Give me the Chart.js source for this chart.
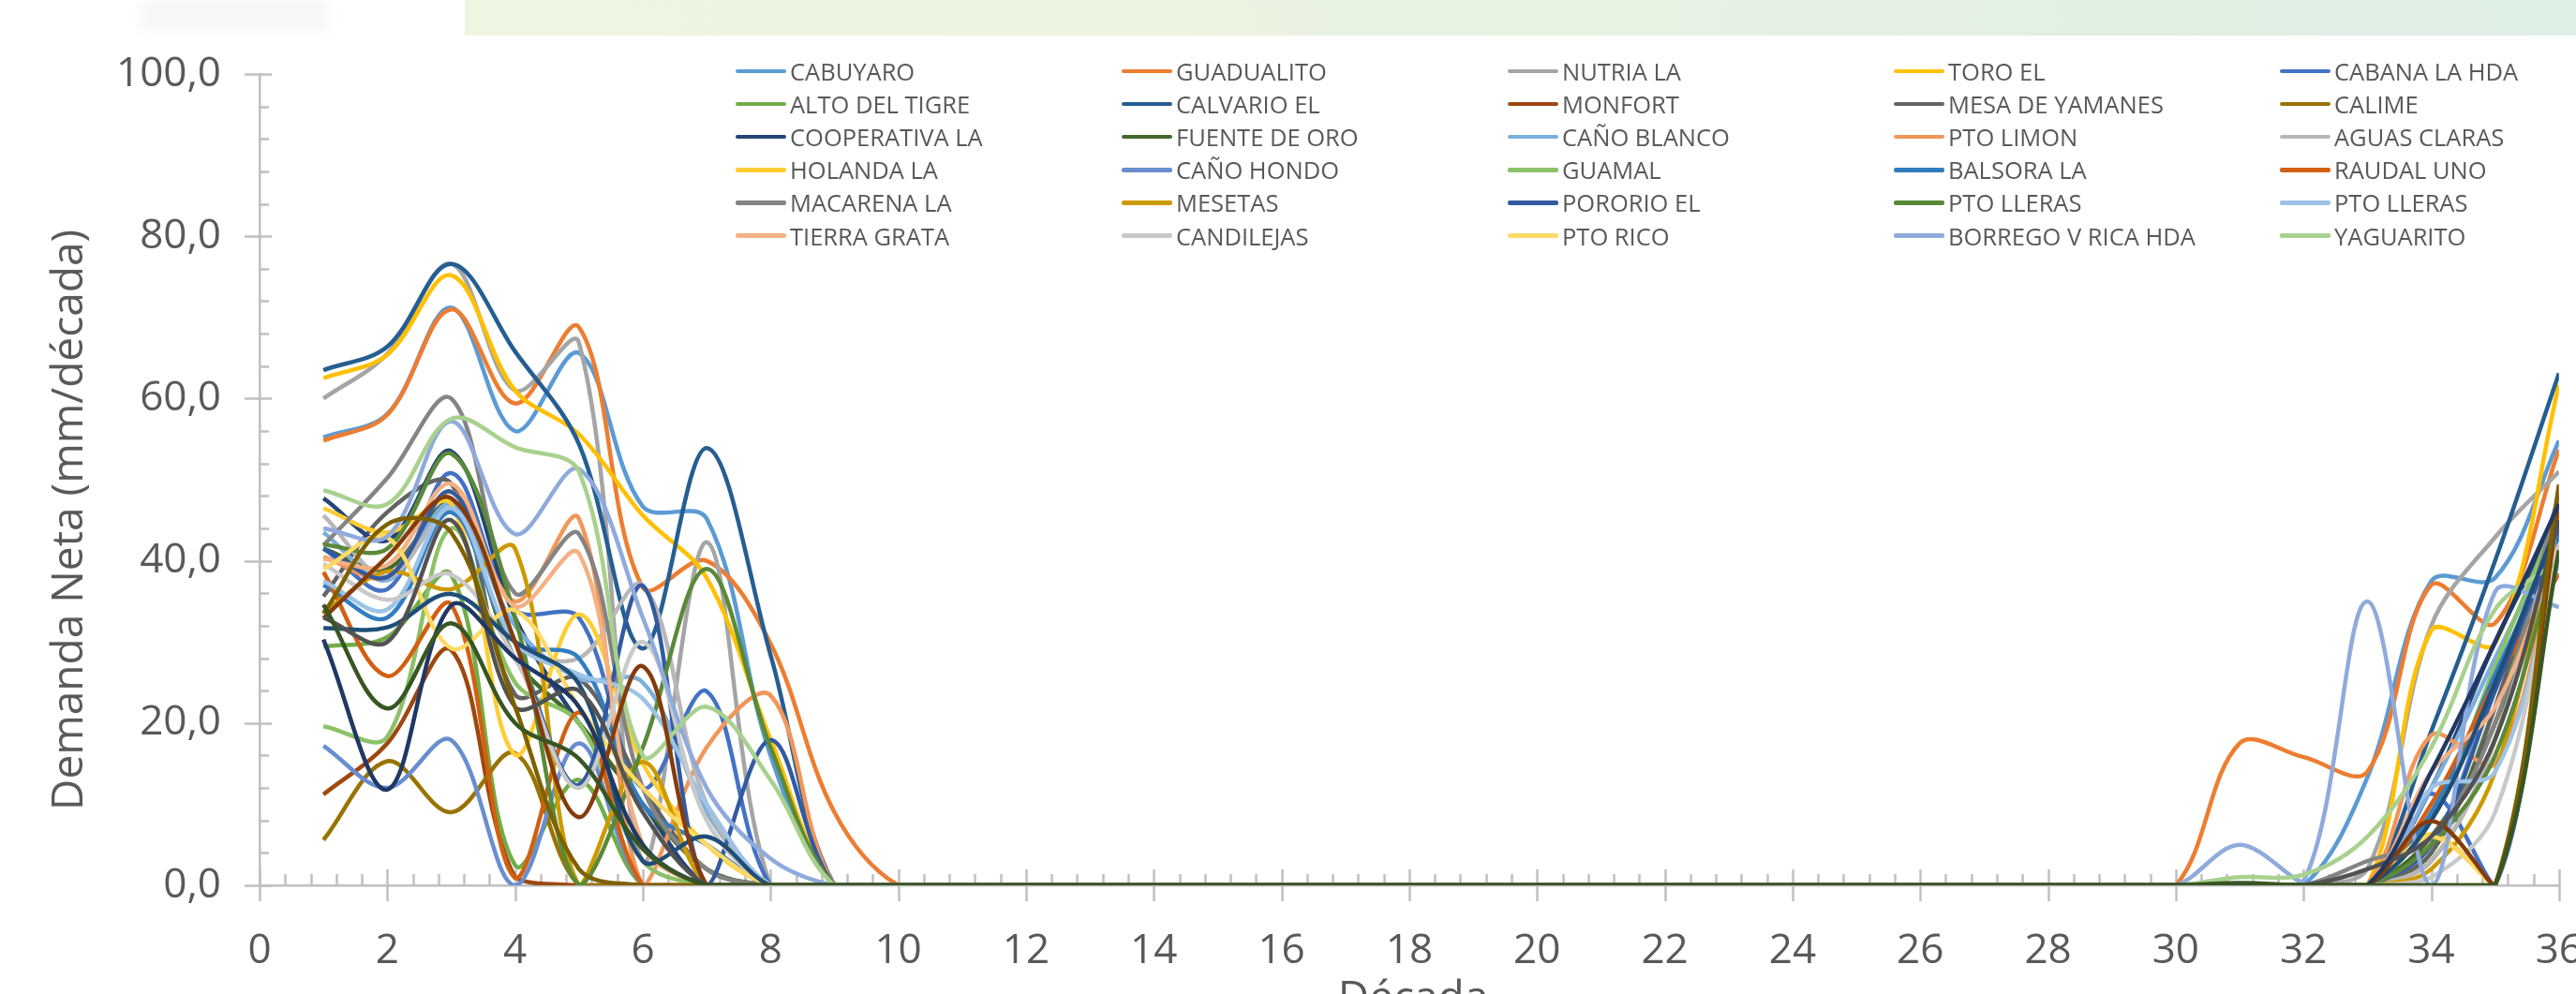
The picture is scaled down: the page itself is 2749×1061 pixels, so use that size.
<!DOCTYPE html>
<html lang="es">
<head>
<meta charset="utf-8">
<title>Demanda Neta por década</title>
<script src="https://cdn.jsdelivr.net/npm/chart.js@4.4.1/dist/chart.umd.min.js"></script>
<style>
  html, body { margin: 0; padding: 0; background: #ffffff; overflow: hidden; width: 2749px; height: 1061px; }
  #wrap { position: absolute; left: 0; top: 0; width: 2800px; height: 1120px; }
  #banner { position: absolute; left: 496px; top: 0; width: 2253px; height: 38px;
            background: linear-gradient(90deg, #EEF6E1 0%, #EBF4E1 35%, #E5F1E2 60%, #DEEFE4 100%); }
  #blob { position: absolute; left: 150px; top: 0; width: 200px; height: 34px; background: #F7F7F7; filter: blur(6px); }
  #legend { position: absolute; left: 0; top: 0; font-family: 'Open Sans', sans-serif; font-size: 25.5px; color: #595959; }
  .item { position: absolute; height: 36px; display: flex; align-items: center; white-space: nowrap; }
  .sw { width: 54px; height: 4.5px; border-radius: 2px; margin-right: 4px; flex: none; }
  .title { position: absolute; font-family: 'Open Sans', sans-serif; font-size: 46px; line-height: 46px; color: #595959; white-space: nowrap; }
  #ytitle { left: 70px; top: 555px; transform: translate(-50%, -50%) rotate(-90deg); }
  #xtitle { left: 1508px; top: 1039px; transform: translateX(-50%); }
</style>
</head>
<body>
<div id="blob"></div>
<div id="banner"></div>
<div id="wrap"><canvas id="chart"></canvas></div>
<div id="legend"></div>
<div class="title" id="ytitle">Demanda Neta (mm/década)</div>
<div class="title" id="xtitle">Década</div>
<script>
// Décadas del año (eje X)
const decades = [1,2,3,4,5,6,7,8,9,10,11,12,13,14,15,16,17,18,19,20,21,22,23,24,25,26,27,28,29,30,31,32,33,34,35,36];

// Demanda neta por estación (mm/década), una entrada por década
const cabuyaro      = [55.2,58.1,71.2,56.0,65.6,46.7,45.2,16.0,0, 0,0,0,0,0,0,0,0,0,0,0,0,0,0,0,0,0,0,0,0, 0,0,0,13.3,37.5,37.9,54.8];
const guadualito    = [54.8,58.0,71.0,59.4,68.8,36.7,40.0,29.8,9.0, 0,0,0,0,0,0,0,0,0,0,0,0,0,0,0,0,0,0,0,0, 0,17.5,15.8,14.0,37.0,32.3,53.7];
const nutriaLa      = [60.0,65.5,76.6,61.0,66.9,3.0,42.3,0,0, 0,0,0,0,0,0,0,0,0,0,0,0,0,0,0,0,0,0,0,0, 0,0,0,2.0,32.0,42.9,51.0];
const toroEl        = [62.5,65.4,75.2,61.0,55.6,45.6,37.9,18.0,0, 0,0,0,0,0,0,0,0,0,0,0,0,0,0,0,0,0,0,0,0, 0,0,0,0,31.4,29.8,61.7];
const cabanaLaHda   = [41.5,36.5,50.8,34.0,33.0,12.0,23.9,0,0, 0,0,0,0,0,0,0,0,0,0,0,0,0,0,0,0,0,0,0,0, 0,0,0,0,11.3,0,44.8];
const altoDelTigre  = [29.4,30.6,38.3,2.5,13.0,0,0,0,0, 0,0,0,0,0,0,0,0,0,0,0,0,0,0,0,0,0,0,0,0, 0,0,0,0,4.0,22.0,44.0];
const calvarioEl    = [63.5,66.4,76.6,65.8,54.4,29.2,53.9,28.4,0, 0,0,0,0,0,0,0,0,0,0,0,0,0,0,0,0,0,0,0,0, 0,0,0,0,19.0,40.0,63.1];
const monfort       = [11.2,17.5,29.0,1.0,0,0,0,0,0, 0,0,0,0,0,0,0,0,0,0,0,0,0,0,0,0,0,0,0,0, 0,0,0,0,5.0,20.0,44.0];
const mesaYamanes   = [35.6,46.0,49.5,23.5,25.5,12.0,2.0,0,0, 0,0,0,0,0,0,0,0,0,0,0,0,0,0,0,0,0,0,0,0, 0,0,0,0,4.0,22.0,48.0];
const calime        = [5.6,15.3,9.0,16.3,0,0,0,0,0, 0,0,0,0,0,0,0,0,0,0,0,0,0,0,0,0,0,0,0,0, 0,0,0,0,3.0,18.0,47.0];
const cooperativaLa = [47.7,42.5,53.5,33.0,20.0,10.0,0,0,0, 0,0,0,0,0,0,0,0,0,0,0,0,0,0,0,0,0,0,0,0, 0,0,0,0,12.0,30.0,45.5];
const fuenteDeOro   = [41.5,39.0,47.0,28.0,20.0,10.0,2.0,0,0, 0,0,0,0,0,0,0,0,0,0,0,0,0,0,0,0,0,0,0,0, 0,0,0,0,6.0,20.0,45.0];
const canoBlanco    = [43.5,37.6,47.0,32.0,25.5,25.0,9.0,0,0, 0,0,0,0,0,0,0,0,0,0,0,0,0,0,0,0,0,0,0,0, 0,0,0,0,12.0,28.0,44.0];
const ptoLimon      = [40.5,38.0,48.5,35.0,45.2,0,17.0,23.4,0, 0,0,0,0,0,0,0,0,0,0,0,0,0,0,0,0,0,0,0,0, 0,0,0,0,18.5,15.0,42.0];
const aguasClaras   = [45.6,38.0,46.0,30.0,28.0,37.0,10.0,0,0, 0,0,0,0,0,0,0,0,0,0,0,0,0,0,0,0,0,0,0,0, 0,0,0,0,3.0,18.0,46.0];
const holandaLa     = [46.5,43.5,47.0,16.1,33.4,15.0,5.0,0,0, 0,0,0,0,0,0,0,0,0,0,0,0,0,0,0,0,0,0,0,0, 0,0,0,0,6.3,0,46.7];
const canoHondo     = [17.2,12.0,17.9,0,17.5,0,0,0,0, 0,0,0,0,0,0,0,0,0,0,0,0,0,0,0,0,0,0,0,0, 0,0,0,0,5.0,25.0,45.0];
const guamal        = [19.6,18.3,44.0,25.0,20.0,3.0,0,0,0, 0,0,0,0,0,0,0,0,0,0,0,0,0,0,0,0,0,0,0,0, 0,0,0,0,8.0,27.0,46.0];
const balsoraLa     = [37.0,33.0,46.0,30.0,28.0,10.0,5.0,0,0, 0,0,0,0,0,0,0,0,0,0,0,0,0,0,0,0,0,0,0,0, 0,0,0,0,9.0,26.0,43.0];
const raudalUno     = [38.6,25.8,34.6,0.9,21.3,0,0,0,0, 0,0,0,0,0,0,0,0,0,0,0,0,0,0,0,0,0,0,0,0, 0,0,0,0,10.0,25.0,38.4];
const macarenaLa    = [41.9,50.2,60.0,36.0,43.3,12.0,2.0,0,0, 0,0,0,0,0,0,0,0,0,0,0,0,0,0,0,0,0,0,0,0, 0,0,0,3.0,6.0,20.0,48.0];
const mesetas       = [33.7,38.7,36.5,41.5,0,15.2,0,0,0, 0,0,0,0,0,0,0,0,0,0,0,0,0,0,0,0,0,0,0,0, 0,0,0,0,2.0,14.0,46.0];
const pororioEl     = [41.5,38.0,48.5,30.0,12.4,36.9,0,17.9,0, 0,0,0,0,0,0,0,0,0,0,0,0,0,0,0,0,0,0,0,0, 0,0,0,0,5.0,24.0,44.0];
const ptoLleras     = [42.0,41.5,53.2,33.0,0,17.0,39.0,17.0,0, 0,0,0,0,0,0,0,0,0,0,0,0,0,0,0,0,0,0,0,0, 0,0,0,0,5.0,16.0,42.0];
const ptoLleras2    = [37.5,34.0,46.5,30.0,26.0,23.0,10.0,0,0, 0,0,0,0,0,0,0,0,0,0,0,0,0,0,0,0,0,0,0,0, 0,0,0,0,12.0,14.0,40.0];
const tierraGrata   = [40.2,39.5,49.5,34.4,40.9,5.0,0,0,0, 0,0,0,0,0,0,0,0,0,0,0,0,0,0,0,0,0,0,0,0, 0,0,0,0,14.0,22.0,42.0];
const candilejas    = [39.6,35.2,38.3,28.0,12.0,30.0,8.0,0,0, 0,0,0,0,0,0,0,0,0,0,0,0,0,0,0,0,0,0,0,0, 0,0,0,0,1.0,9.0,42.0];
const ptoRico       = [39.0,42.9,29.2,33.9,22.0,12.0,5.0,0,0, 0,0,0,0,0,0,0,0,0,0,0,0,0,0,0,0,0,0,0,0, 0,0,0,0,6.0,0,46.5];
const borregoVRica  = [44.0,43.0,57.2,43.3,51.3,33.0,12.0,3.3,0, 0,0,0,0,0,0,0,0,0,0,0,0,0,0,0,0,0,0,0,0, 0,5.0,0.5,35.0,0,36.2,34.3];
const yaguarito     = [48.7,47.0,57.5,54.0,51.0,16.0,22.0,13.0,0, 0,0,0,0,0,0,0,0,0,0,0,0,0,0,0,0,0,0,0,0, 0,1.0,1.3,6.0,17.0,34.0,40.0];
// Series sin entrada en la leyenda
const serie31       = [31.7,31.8,35.9,30.0,24.8,3.0,6.0,0,0, 0,0,0,0,0,0,0,0,0,0,0,0,0,0,0,0,0,0,0,0, 0,0,0,0,8.0,25.0,45.0];
const serie32       = [32.9,40.5,47.7,30.0,8.4,27.0,0,0,0, 0,0,0,0,0,0,0,0,0,0,0,0,0,0,0,0,0,0,0,0, 0,0,0,0,7.9,0,47.0];
const serie33       = [33.0,30.0,45.0,22.0,24.0,9.0,0,0,0, 0,0,0,0,0,0,0,0,0,0,0,0,0,0,0,0,0,0,0,0, 0,0,0,2.0,6.0,18.0,45.0];
const serie34       = [33.5,44.5,43.5,22.0,2.0,0,0,0,0, 0,0,0,0,0,0,0,0,0,0,0,0,0,0,0,0,0,0,0,0, 0,0,0,0,0,0,49.4];
const serie35       = [30.3,11.8,34.5,28.0,22.0,5.0,0,0,0, 0,0,0,0,0,0,0,0,0,0,0,0,0,0,0,0,0,0,0,0, 0,0,0,0,14.0,30.0,47.0];
const serie36       = [34.6,21.8,32.3,20.0,15.6,4.5,0,0,0, 0,0,0,0,0,0,0,0,0,0,0,0,0,0,0,0,0,0,0,0, 0,0.3,0,0,0,0,41.3];

const seriesValues = [cabuyaro, guadualito, nutriaLa, toroEl, cabanaLaHda, altoDelTigre, calvarioEl, monfort,
  mesaYamanes, calime, cooperativaLa, fuenteDeOro, canoBlanco, ptoLimon, aguasClaras, holandaLa, canoHondo,
  guamal, balsoraLa, raudalUno, macarenaLa, mesetas, pororioEl, ptoLleras, ptoLleras2, tierraGrata,
  candilejas, ptoRico, borregoVRica, yaguarito, serie31, serie32, serie33, serie34, serie35, serie36];

const seriesNames = ['CABUYARO','GUADUALITO','NUTRIA LA','TORO EL','CABANA LA HDA',
  'ALTO DEL TIGRE','CALVARIO EL','MONFORT','MESA DE YAMANES','CALIME',
  'COOPERATIVA LA','FUENTE DE ORO','CAÑO BLANCO','PTO LIMON','AGUAS CLARAS',
  'HOLANDA LA','CAÑO HONDO','GUAMAL','BALSORA LA','RAUDAL UNO',
  'MACARENA LA','MESETAS','PORORIO EL','PTO LLERAS','PTO LLERAS',
  'TIERRA GRATA','CANDILEJAS','PTO RICO','BORREGO V RICA HDA','YAGUARITO'];

const seriesColors = ['#5B9BD5','#ED7D31','#A5A5A5','#FFC000','#4472C4','#70AD47',
  '#255E91','#9E480E','#636363','#997300','#264478','#43682B',
  '#7CAFDD','#F1975A','#B7B7B7','#FFCD33','#698ED0','#8CC168',
  '#327DC2','#D26012','#848484','#CC9A00','#335AA1','#5A8A39',
  '#9DC3E6','#F4B183','#C9C9C9','#FFD966','#8FAADC','#A9D18E',
  '#1F4E79','#843C0C','#525252','#7F6000','#203864','#375623'];

const xTickValues = [0,2,4,6,8,10,12,14,16,18,20,22,24,26,28,30,32,34,36];
const yTickValues = [0,20,40,60,80,100];

// Leyenda en cinco columnas, superpuesta al área de trazado
const legendCols = [785, 1197, 1609, 2021, 2433];
const legendTop = 58, legendRow = 35.1;
const legendEl = document.getElementById('legend');
seriesNames.forEach((name, i) => {
  const item = document.createElement('div');
  item.className = 'item';
  item.style.left = legendCols[i % 5] + 'px';
  item.style.top = (legendTop + Math.floor(i / 5) * legendRow) + 'px';
  const sw = document.createElement('span');
  sw.className = 'sw';
  sw.style.background = seriesColors[i];
  const tx = document.createElement('span');
  tx.textContent = name;
  item.appendChild(sw);
  item.appendChild(tx);
  legendEl.appendChild(item);
});

// Marcas de graduación: principales cruzando el eje, secundarias hacia dentro
const axisTicks = {
  id: 'axisTicks',
  beforeDatasetsDraw(chart) {
    const { ctx, scales: { x, y } } = chart;
    const ax = x.getPixelForValue(0), ay = y.getPixelForValue(0);
    ctx.save();
    ctx.strokeStyle = '#C0C0C0';
    ctx.lineWidth = 2.5;
    ctx.beginPath();
    for (let v = 0; v <= 100.001; v += 4) {
      const py = Math.round(y.getPixelForValue(v)) + 0.5;
      const major = Math.abs(v % 20) < 0.001;
      ctx.moveTo(major ? ax - 16 : ax, py);
      ctx.lineTo(major ? ax + 13 : ax + 10, py);
    }
    for (let v = 0; v <= 36.001; v += 0.4) {
      const px = Math.round(x.getPixelForValue(v)) + 0.5;
      const major = Math.abs(v / 2 - Math.round(v / 2)) < 0.001;
      ctx.moveTo(px, major ? ay - 17 : ay - 12);
      ctx.lineTo(px, major ? ay + 17 : ay);
    }
    ctx.stroke();
    ctx.restore();
  }
};

Chart.defaults.font.family = "'Open Sans', sans-serif";
Chart.defaults.color = '#595959';

const datasets = seriesValues.map((vals, i) => ({
  label: seriesNames[i] || '',
  data: vals.map((v, k) => ({ x: decades[k], y: v })),
  borderColor: seriesColors[i],
  backgroundColor: seriesColors[i],
  borderWidth: 4.5,
  pointRadius: 0,
  tension: 0.35,
  fill: false,
  order: seriesValues.length - i
}));

new Chart(document.getElementById('chart'), {
  type: 'line',
  data: { datasets },
  plugins: [axisTicks],
  options: {
    responsive: true,
    maintainAspectRatio: false,
    animation: false,
    devicePixelRatio: 1,
    layout: { padding: { left: 0, top: 79, right: 60, bottom: 0 } },
    plugins: { legend: { display: false }, tooltip: { enabled: false } },
    scales: {
      x: {
        type: 'linear',
        min: 0, max: 36,
        afterFit: (s) => { s.height = 175; },
        afterBuildTicks: (s) => { s.ticks = xTickValues.map(v => ({ value: v })); },
        grid: { display: false, drawTicks: false },
        border: { display: true, color: '#C0C0C0', width: 2.5 },
        ticks: { padding: 44, font: { size: 44 }, color: '#595959', maxRotation: 0, autoSkip: false,
                 callback: (v) => String(v) }
      },
      y: {
        min: 0, max: 100,
        afterFit: (s) => { s.width = 277; },
        afterBuildTicks: (s) => { s.ticks = yTickValues.map(v => ({ value: v })); },
        grid: { display: false, drawTicks: false },
        border: { display: true, color: '#C0C0C0', width: 2.5 },
        ticks: { padding: 41, font: { size: 44 }, color: '#595959',
                 callback: (v) => v.toFixed(1).replace('.', ',') }
      }
    }
  }
});
</script>
</body>
</html>
